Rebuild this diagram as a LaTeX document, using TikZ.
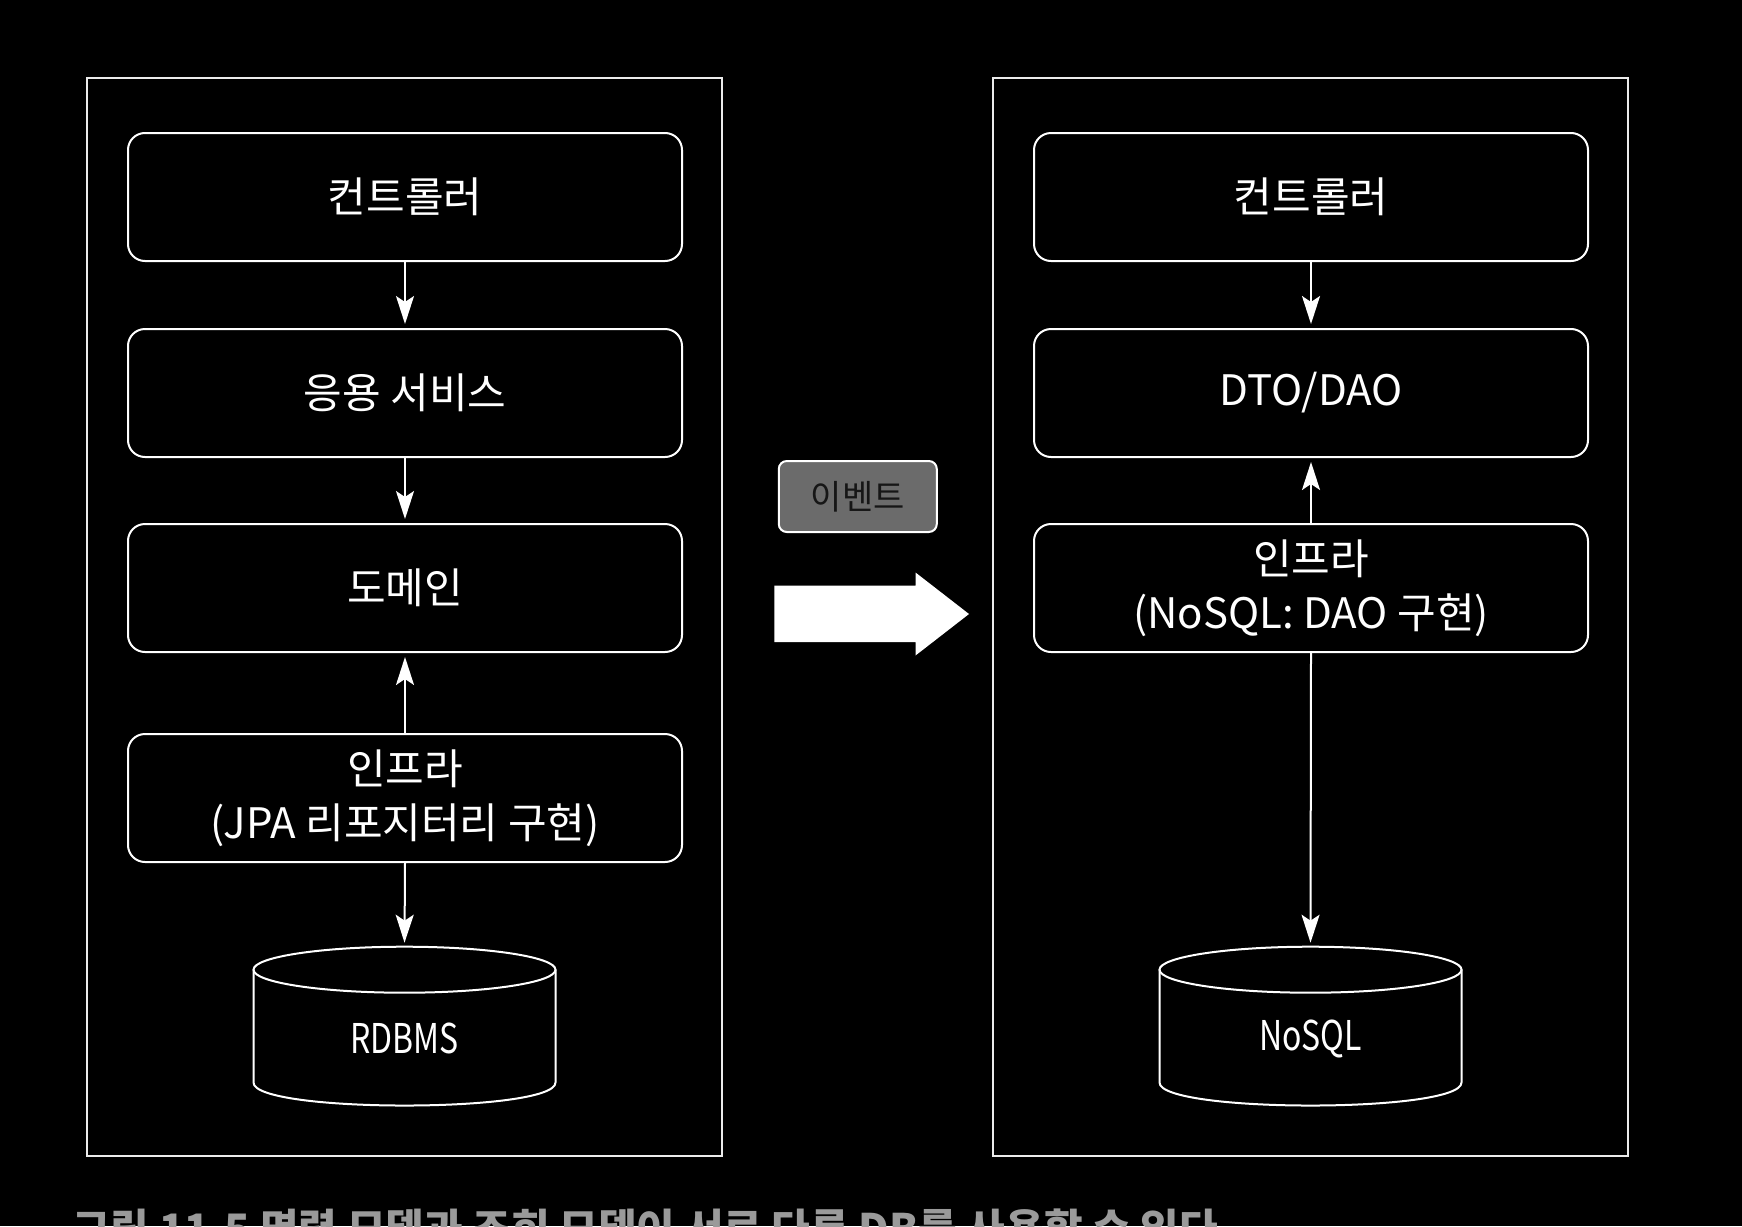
\documentclass[tikz,border=0pt]{standalone}
\usepackage{fontspec}
\usepackage{graphicx}
\setmainfont{Noto Sans CJK KR}
\usetikzlibrary{arrows.meta}
\definecolor{evgray}{HTML}{6B6B6B}
\definecolor{evtext}{HTML}{161616}
\definecolor{capgray}{HTML}{9A9A9A}
\begin{document}
\begin{tikzpicture}[x=1pt,y=-1pt,
  layer/.style={draw=white, line width=2pt, rounded corners=17pt,
    minimum width=554pt, minimum height=128pt, inner sep=0pt,
    text=white, align=center, font=\fontsize{42}{54}\selectfont},
  frame/.style={draw=white!92!black, line width=2pt},
  flow/.style={draw=white, line width=2pt,
    -{Stealth[length=28pt,width=18pt,inset=6pt]}, shorten >=4pt},
  dbtext/.style={minimum width=302pt, minimum height=136pt, inner sep=0pt,
    text=white, font=\fontsize{41}{48}\selectfont},
  dbline/.style={draw=white, line width=2pt},
]
\path[use as bounding box, fill=black] (0,0) rectangle (1742,1226);
\clip (0,0) rectangle (1742,1226);

% frames
\draw[frame] (86.7,77.8) rectangle (722.2,1155.5);
\draw[frame] (993.3,77.8) rectangle (1627.8,1155.5);

% left column
\node[layer] (lc) at (405,197) {컨트롤러};
\node[layer] (ls) at (405,393) {응용 서비스};
\node[layer] (ld) at (405,588) {도메인};
\node[layer] (li) at (405,798) {인프라\\(JPA 리포지터리 구현)};

\draw[dbline] (404.5,969.7) ellipse [x radius=151pt, y radius=23pt];
\draw[dbline] (253.5,969.7) -- (253.5,1082.5)
  .. controls (253.5,1113.2) and (555.5,1113.2) .. (555.5,1082.5) -- (555.5,969.7);
\node[dbtext] (rdb) at (404.5,1038.5) {\scalebox{0.78}[1]{RDBMS}};
\coordinate (rdbtop) at (404.5,946.7);

% right column
\node[layer] (rc) at (1311,197) {컨트롤러};
\node[layer] (rd) at (1311,393) {DTO/DAO};
\node[layer] (ri) at (1311,588) {인프라\\(NoSQL: DAO 구현)};

\draw[dbline] (1310.5,969.7) ellipse [x radius=151pt, y radius=23pt];
\draw[dbline] (1159.5,969.7) -- (1159.5,1082.5)
  .. controls (1159.5,1113.2) and (1461.5,1113.2) .. (1461.5,1082.5) -- (1461.5,969.7);
\node[dbtext] (nsql) at (1310.5,1038.5) {\scalebox{0.78}[1]{NoSQL}};
\coordinate (nsqltop) at (1310.5,946.7);

% connectors
\draw[flow] (lc.south) -- (ls.north);
\draw[flow] (ls.south) -- (ld.north);
\draw[flow] (li.north) -- (ld.south);
\draw[flow] (li.south) -- (rdbtop);
\draw[flow] (rc.south) -- (rd.north);
\draw[flow] (ri.north) -- (rd.south);
\draw[flow] (ri.south) -- (nsqltop);

% event and big arrow
\node[draw=white, line width=2pt, fill=evgray, rounded corners=8pt,
  minimum width=158pt, minimum height=71pt, inner sep=0pt,
  text=evtext, font=\fontsize{34}{40}\selectfont] (ev) at (857.8,496.5) {이벤트};
\fill[white] (774.4,585.5) -- (915.5,585.5) -- (915.5,572.5) -- (969,614)
  -- (915.5,655.5) -- (915.5,642.2) -- (774.4,642.2) -- cycle;

% caption (cut by the page edge, as in the reference)
\node[anchor=base west, inner sep=0pt, text=capgray,
  font=\fontsize{42}{46}\selectfont\bfseries] (cap) at (72,1244)
  {그림 11.5 명령 모델과 조회 모델이 서로 다른 DB를 사용할 수 있다};
\end{tikzpicture}
\end{document}
